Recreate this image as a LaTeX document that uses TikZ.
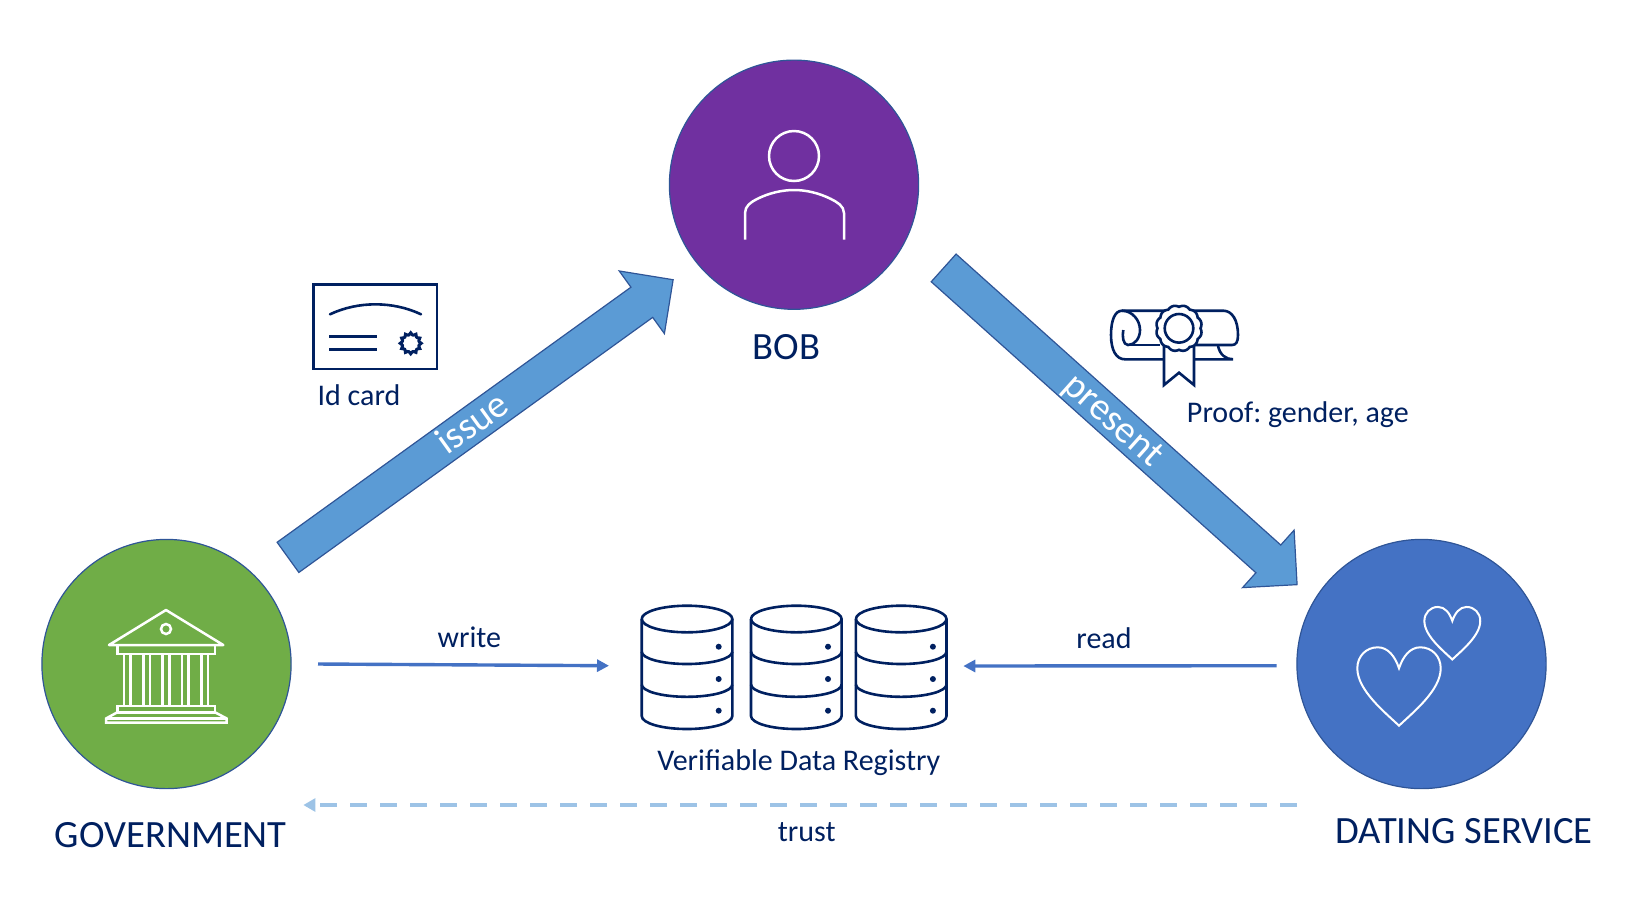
\documentclass[tikz,border=0pt]{standalone}
\usepackage{fontspec}
\setmainfont{Carlito}
\usetikzlibrary{arrows.meta,shapes.arrows}
\definecolor{navy}{HTML}{002060}
\definecolor{ring}{HTML}{2F5597}
\definecolor{leaf}{HTML}{70AD47}
\definecolor{plum}{HTML}{7030A0}
\definecolor{azure}{HTML}{4472C4}
\definecolor{sky}{HTML}{5B9BD5}
\definecolor{pale}{HTML}{9DC3E6}
\tikzstyle{actor}=[circle,draw=ring,line width=.6pt,minimum size=124.6pt,inner sep=0pt]
\tikzstyle{bigarrow}=[single arrow,draw=ring,line width=.6pt,fill=sky,text=white,font=\fontsize{19.3}{19.3}\selectfont,text height=14.5pt,text depth=3.5pt,single arrow head extend=10pt,minimum width=38pt,inner sep=0pt,pos=0,anchor=tail,sloped]
\tikzstyle{title}=[anchor=base,text=navy,font=\fontsize{19.3}{19.3}\selectfont,inner sep=0pt]
\tikzstyle{note}=[anchor=base,text=navy,font=\fontsize{15}{15}\selectfont\frenchspacing,inner sep=0pt]
\tikzstyle{flow}=[-{Triangle[length=6pt,width=6pt]},azure,line width=1.7pt]
\tikzstyle{trustline}=[-{Triangle[length=6pt,width=6.4pt]},pale,line width=1.8pt,dash pattern=on 8.7pt off 6.3pt]
\tikzstyle{whiteicon}=[white,line width=1.25pt]
\tikzstyle{navyicon}=[navy,line width=1.3pt]
\def\heart#1#2#3{\draw[whiteicon,line width=1pt,shift={(#1,#2)},scale=#3] (0,57.4) .. controls (-14,44) and (-41.7,22) .. (-41.7,0) .. controls (-41.7,-12) and (-33,-21) .. (-21.3,-21) .. controls (-11,-21) and (-4,-12) .. (0,0) .. controls (4,-12) and (11,-21) .. (21.3,-21) .. controls (33,-21) and (41.7,-12) .. (41.7,0) .. controls (41.7,22) and (14,44) .. (0,57.4) -- cycle}
\begin{document}
\begin{tikzpicture}[x=.5pt,y=-.5pt]
    \useasboundingbox (0,0) rectangle (1625,901);
    \node[actor,fill=leaf] (gov) at (166.5,664) {};
    \node[actor,fill=plum] (bob) at (794,184.7) {};
    \node[actor,fill=azure] (dating) at (1421.5,664) {};
    \node[title] (govlabel) at (170.8,847.7) {GOVERNMENT};
    \node[title] (boblabel) at (786.7,359) {BOB};
    \node[title] (datinglabel) at (1464,843.7) {DATING SERVICE};

    \coordinate (issuetail) at (287.5,557.7);
    \coordinate (issuetip) at (672.7,280);
    \coordinate (presenttail) at (943.2,267.5);
    \coordinate (presenttip) at (1296.7,584.3);
    \path (issuetail) -- (issuetip) node[bigarrow,minimum height=237.4pt] (issue) {issue\hspace{10pt}};
    \path (presenttail) -- (presenttip) node[bigarrow,minimum height=237.3pt] (present) {present\hspace{10pt}};

    \coordinate (writefrom) at (318,664);
    \coordinate (writeto) at (609,665.7);
    \coordinate (readfrom) at (1276.7,665.7);
    \coordinate (readto) at (963.3,666);
    \coordinate (trustfrom) at (1297,805);
    \coordinate (trustto) at (303.3,805);
    \draw[flow] (writefrom) -- (writeto);
    \draw[flow] (readfrom) -- (readto);
    \draw[trustline] (trustfrom) -- (trustto);
    \node[note] (writelabel) at (469.3,647) {write};
    \node[note] (readlabel) at (1104,648.7) {read};
    \node[note] (trustlabel) at (806.7,841) {trust};
    \node[note] (idlabel) at (359,405.3) {Id card};
    \node[note] (prooflabel) at (1297.8,422.7) {Proof: gender, age};
    \node[note] (dblabel) at (798.8,770) {Verifiable Data Registry};

    % building
    \draw[whiteicon,line join=round] (109,645) -- (166,610) -- (223.3,645) -- cycle;
    \draw[whiteicon] (166,629) circle (5);
    \draw[whiteicon] (117.3,645) rectangle (215,654);
    \foreach \cx in {127.3,146.7,166,185.3,204.7}
      \draw[whiteicon] (\cx-3.3,654) -- (\cx-3.3,706) (\cx+3.3,654) -- (\cx+3.3,706);
    \draw[whiteicon] (117.3,706) rectangle (215,712.3);
    \draw[whiteicon] (117.3,712.3) -- (106,718.5) -- (106,722.7) -- (226.7,722.7) -- (226.7,718.5) -- (215,712.3);
    \draw[whiteicon] (106,718.5) -- (226.7,718.5);

    % person
    \draw[whiteicon] (794,156) circle (25);
    \draw[whiteicon] (745,239.5) -- (745,213) .. controls (745,206) and (751,202) .. (757,199) .. controls (769,193) and (782,190) .. (794,190) .. controls (806,190) and (819,193) .. (831,199) .. controls (837,202) and (844,206) .. (844,213) -- (844,239.5);

    % hearts
    \heart{1399}{668.3}{1};
    \heart{1452.3}{621}{.67};

    % id card
    \draw[navyicon,line width=1.4pt] (313.7,284.3) rectangle (437,369);
    \draw[navyicon,line cap=round] (330,314.3) .. controls (358,301) and (393,301) .. (421,314.3);
    \draw[navyicon] (329.3,336.7) -- (377.3,336.7) (329.3,349.3) -- (377.3,349.3);
    \draw[navyicon,line width=1.5pt,shift={(410.7,343.3)}] plot[domain=0:360,samples=97] (\x:{10.5-2*abs(sin(6*\x))}) -- cycle;

    % scroll
    \draw[navyicon] (1164,359.3) -- (1125,359.3) .. controls (1116,359.3) and (1111,350) .. (1111,335) .. controls (1111,320) and (1115,310.7) .. (1122,310.7) -- (1223.3,310.7) .. controls (1232,310.7) and (1238,320) .. (1238,335) .. controls (1238,342) and (1236,345) .. (1232,345) -- (1195,345);
    \draw[navyicon] (1122,310.7) .. controls (1132,310.7) and (1140,320) .. (1140,330) .. controls (1140,338) and (1135,345) .. (1128,345) .. controls (1123,345) and (1122,336) .. (1123.3,330);
    \draw[navyicon] (1128,345) -- (1160,345);
    \draw[navyicon] (1218,346) .. controls (1220,355) and (1226,359.3) .. (1233,359.3) -- (1195,359.3);
    \draw[navyicon,line join=miter] (1164,345) -- (1164,385) -- (1179,372.7) -- (1194,385) -- (1194,345);
    \draw[navyicon,fill=white,shift={(1179,328.3)}] plot[domain=0:360,samples=145] (\x:{21.5+1.5*abs(sin(6*\x))}) -- cycle;
    \draw[navyicon] (1179,328.3) circle (14.3);

    % data stores
    \foreach \cx in {687,796.3,901.2}{
      \draw[navyicon] (\cx-45.3,619) arc[x radius=45.3,y radius=13.3,start angle=180,end angle=-180];
      \draw[navyicon] (\cx-45.3,619) -- (\cx-45.3,716) arc[x radius=45.3,y radius=13,start angle=180,end angle=0] -- (\cx+45.3,619);
      \draw[navyicon] (\cx-45.3,651.7) arc[x radius=45.3,y radius=12.3,start angle=180,end angle=0];
      \draw[navyicon] (\cx-45.3,684.5) arc[x radius=45.3,y radius=12.3,start angle=180,end angle=0];
      \foreach \dy in {646.7,679,710.7}
        \fill[navy] (\cx+31.7,\dy) circle (3);
    }
  \end{tikzpicture}
\end{document}
